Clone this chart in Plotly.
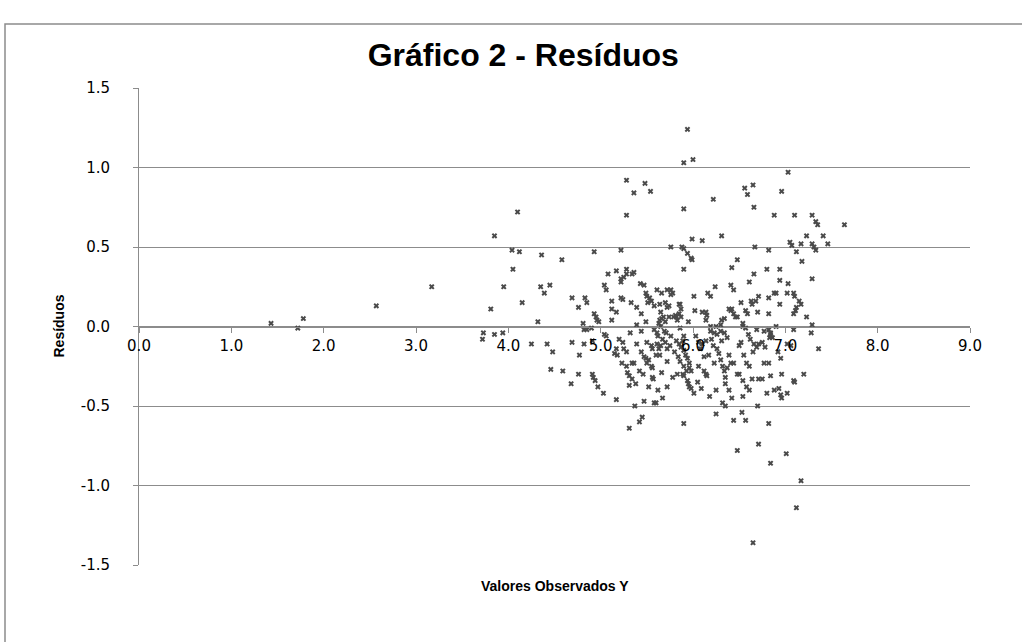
import plotly.graph_objects as go

x_obs = [
    1.43, 1.72, 1.78, 2.57, 3.17, 3.72, 3.73, 3.85, 3.94, 3.81, 3.85, 3.95, 4.04, 4.12, 4.05, 4.10,
    4.15, 4.36, 4.35, 4.45, 4.39, 4.32, 4.58, 4.69, 4.76, 4.83, 4.85, 4.93, 4.25, 4.42, 4.48, 4.46,
    4.59, 4.69, 4.77, 4.76, 4.68, 4.82, 4.91, 4.91, 4.92, 4.94, 4.97, 5.03, 5.17, 5.31,
    5.22, 4.93, 4.95, 4.96, 4.98, 4.81, 5.04, 5.06, 5.08, 5.17, 5.28, 5.28, 5.25, 5.22, 5.22, 5.34,
    5.12, 5.22, 5.24, 5.33, 5.12, 5.17, 5.12, 5.32, 4.82, 4.85, 4.90, 5.04, 5.06,
    5.76, 5.88, 5.90, 5.94, 5.98, 5.99, 6.67, 6.82, 7.05, 7.07, 7.12, 6.48, 6.42, 5.90, 6.66, 6.80,
    6.94, 5.36, 5.43, 5.47, 6.61, 6.94, 7.03, 6.41, 6.44, 6.24, 6.16, 6.19, 6.01, 5.49, 5.50, 5.53,
    5.51, 5.55, 5.61, 5.66, 5.72, 5.76, 5.78, 5.76, 5.85, 5.39, 5.44, 5.39, 5.49, 5.58, 5.64, 5.70,
    5.72, 5.65, 5.68, 5.64, 5.63, 5.65, 5.69, 5.66, 5.70, 5.82, 5.83, 5.81, 5.87, 5.85, 5.95, 6.02,
    6.10, 6.14, 6.15, 6.14, 6.31, 6.34, 6.25, 6.19, 6.39, 6.41, 6.44, 6.46, 6.52, 6.63, 6.64, 6.68,
    6.71, 6.57, 6.59, 6.70, 6.82, 6.82, 6.88, 6.90, 6.94, 7.02, 7.09, 7.10, 7.12, 6.54, 6.69, 6.82,
    6.84, 6.86, 6.90, 7.09, 6.19, 6.23, 6.26, 6.30, 5.44, 5.61,
    6.31, 5.99, 6.10, 7.17, 7.18, 7.23, 7.29, 7.31, 7.33, 7.41, 7.46, 7.29, 7.23, 7.29, 7.28, 7.36,
    7.64,
    5.94, 5.90, 6.00, 7.03, 5.28, 5.48, 5.36, 5.54, 5.28, 5.90, 6.22, 6.56, 6.65, 6.59, 6.66, 6.96,
    6.88, 7.10, 7.29, 7.33, 7.35,
    5.23, 5.28, 5.29, 5.31, 5.34, 5.17, 5.15, 5.18, 5.25, 5.28, 5.34, 5.31,
    5.39, 5.36, 5.38, 5.50, 5.55, 5.56, 5.44, 5.47, 5.49, 5.50, 5.61, 5.65, 5.63, 5.60, 5.64, 5.72,
    5.72, 5.71, 5.66, 5.72, 5.78, 5.83, 5.76, 5.82, 5.85, 5.87, 5.90, 5.92, 5.94, 5.96, 5.96, 5.90,
    5.89, 5.94, 5.96, 5.98, 6.01, 6.09, 6.05, 5.89, 6.12, 6.17, 6.23, 6.10, 6.14, 6.26, 6.28, 6.30,
    6.32, 6.34, 6.35, 6.35, 6.31, 6.37, 6.34, 6.39, 6.41, 6.44, 6.37, 6.25, 6.39, 6.42, 6.48, 6.50,
    6.52, 6.55, 6.58, 6.61, 6.58, 6.61, 6.64, 6.54, 6.66, 6.69, 6.71, 6.75, 6.78, 6.77, 6.82, 6.75,
    6.71, 6.80, 6.88, 6.95, 6.93, 6.96, 7.02, 7.06, 7.02, 7.09, 6.83, 6.84,
    5.42, 5.45, 5.90, 6.25, 6.44, 6.53, 6.57, 6.82, 6.71, 6.48, 7.01, 6.84, 7.17, 7.12, 6.65, 5.37,
    5.47, 5.58, 5.60, 6.32, 6.35, 6.70, 6.96, 7.10, 7.20, 6.84, 5.95,
    5.52, 5.55, 5.56, 5.56, 5.57, 5.90, 5.98, 6.14, 6.15, 6.50, 6.54,
    5.74, 5.79, 5.87, 5.74, 5.86, 5.86, 6.30, 6.42, 6.48, 6.54, 7.15, 7.17, 7.11, 7.09, 6.57, 6.77,
    5.58, 5.62, 5.67, 5.70, 5.75, 5.80, 5.84, 5.86, 5.90, 5.93, 6.03, 6.06, 6.08, 6.20, 6.22, 6.06,
    6.12, 6.60, 6.62, 6.65, 6.92, 6.95, 5.20, 5.24, 5.42, 5.46, 5.52, 5.62, 5.67, 6.18,
]

residuals = [
    0.02, -0.01, 0.05, 0.13, 0.25, -0.08, -0.04, -0.05, -0.04, 0.11, 0.57, 0.25, 0.48, 0.47, 0.36, 0.72,
    0.15, 0.45, 0.25, 0.26, 0.21, 0.03, 0.42, 0.18, 0.12, 0.18, 0.15, 0.47, -0.11, -0.11, -0.16, -0.27,
    -0.28, -0.10, -0.18, -0.30, -0.36, -0.11, -0.09, -0.30, -0.32, -0.34, -0.38, -0.42, -0.46, -0.64,
    0.48, 0.08, 0.06, 0.04, 0.03, 0.02, 0.26, 0.23, 0.33, 0.35, 0.36, 0.33, 0.31, 0.30, 0.28, 0.33,
    0.16, 0.18, 0.17, 0.15, 0.11, 0.09, 0.04, -0.04, -0.02, -0.02, -0.01, -0.05, -0.06,
    0.50, 0.50, 0.49, 0.46, 0.43, 0.42, 0.50, 0.48, 0.53, 0.51, 0.47, 0.42, 0.37, 0.36, 0.33, 0.36,
    0.36, 0.34, 0.27, 0.26, 0.28, 0.29, 0.27, 0.26, 0.23, 0.25, 0.21, 0.19, 0.19, 0.21, 0.19, 0.18,
    0.15, 0.16, 0.23, 0.21, 0.23, 0.23, 0.21, 0.20, 0.14, 0.12, 0.08, 0.01, 0.03, 0.13, 0.14, 0.15,
    0.12, 0.09, 0.06, 0.04, 0.02, 0.00, -0.03, 0.05, 0.03, 0.06, 0.04, 0.07, 0.11, 0.08, 0.03, 0.10,
    0.09, 0.09, 0.07, 0.04, 0.04, 0.05, 0.00, 0.00, 0.11, 0.10, 0.08, 0.06, 0.15, 0.16, 0.14, 0.16,
    0.19, 0.10, 0.08, 0.09, 0.08, 0.18, 0.21, 0.21, 0.14, 0.21, 0.21, 0.19, 0.12, 0.00, -0.02, -0.02,
    -0.04, -0.07, 0.00, -0.02, -0.03, -0.04, -0.05, -0.03, -0.03, -0.04,
    0.57, 0.55, 0.54, 0.52, 0.41, 0.57, 0.52, 0.50, 0.48, 0.57, 0.52, 0.30, 0.06, 0.01, -0.04, -0.14,
    0.64,
    1.24, 1.03, 1.05, 0.97, 0.92, 0.90, 0.84, 0.85, 0.70, 0.74, 0.80, 0.87, 0.89, 0.83, 0.75, 0.85,
    0.70, 0.70, 0.70, 0.66, 0.64,
    -0.23, -0.25, -0.29, -0.31, -0.33, -0.14, -0.17, -0.18, -0.14, -0.16, -0.23, -0.37,
    -0.11, -0.23, -0.36, -0.10, -0.12, -0.14, -0.16, -0.19, -0.20, -0.23, -0.11, -0.12, -0.14, -0.18, -0.18, -0.22,
    -0.14, -0.04, -0.29, -0.38, -0.32, -0.30, -0.06, -0.09, -0.11, -0.13, -0.15, -0.18, -0.20, -0.23, -0.26, -0.06,
    -0.09, -0.34, -0.38, -0.39, -0.42, -0.39, -0.35, -0.30, -0.19, -0.18, -0.23, -0.11, -0.09, -0.14, -0.17, -0.21,
    -0.25, -0.28, -0.32, -0.36, -0.09, -0.07, -0.04, -0.18, -0.23, -0.23, -0.26, -0.40, -0.40, -0.45, -0.30, -0.12,
    -0.10, -0.18, -0.23, -0.25, -0.38, -0.40, -0.33, -0.44, -0.11, -0.13, -0.11, -0.10, -0.13, -0.23, -0.23, -0.33,
    -0.33, -0.42, -0.40, -0.43, -0.39, -0.30, -0.42, -0.12, -0.11, -0.34, -0.07, -0.05,
    -0.60, -0.57, -0.61, -0.55, -0.59, -0.54, -0.59, -0.61, -0.74, -0.78, -0.80, -0.86, -0.97, -1.14, -1.36, -0.50,
    -0.47, -0.48, -0.48, -0.48, -0.50, -0.50, -0.45, -0.35, -0.30, -0.31, -0.36,
    -0.21, -0.25, -0.26, -0.32, -0.33, -0.31, -0.28, -0.30, -0.31, -0.30, -0.34,
    0.06, 0.06, 0.06, 0.13, 0.14, -0.01, 0.01, 0.11, 0.06, 0.02, 0.16, 0.14, 0.10, 0.08, -0.01, -0.03,
    -0.02, -0.06, -0.08, -0.10, -0.12, -0.16, -0.19, -0.22, -0.25, -0.28, -0.06, -0.10, -0.14, -0.08, -0.12, -0.25,
    -0.28, -0.05, -0.08, -0.16, -0.16, -0.20, -0.08, -0.10, -0.28, -0.30, -0.38, -0.40, -0.45, -0.44,
]

x_tick_vals = [0, 1, 2, 3, 4, 5, 6, 7, 8, 9]
x_tick_text = ["0.0", "1.0", "2.0", "3.0", "4.0", "5.0", "6.0", "7.0", "8.0", "9.0"]
y_tick_vals = [-1.5, -1.0, -0.5, 0.0, 0.5, 1.0, 1.5]
y_tick_text = ["-1.5", "-1.0", "-0.5", "0.0", "0.5", "1.0", "1.5"]

title_text = "Gráfico 2 - Resíduos"
x_title = "Valores Observados Y"
y_title = "Resíduos"

n = min(len(x_obs), len(residuals))

fig = go.Figure()
fig.add_trace(go.Scatter(
    x=x_obs[:n], y=residuals[:n], mode="markers",
    marker=dict(symbol="x", size=5, color="#4a4a4a", line=dict(width=0)),
    showlegend=False, hoverinfo="x+y",
))

grid_col = "#8c8c8c"
fig.update_layout(
    width=1022, height=642,
    paper_bgcolor="white", plot_bgcolor="white",
    margin=dict(l=139, r=52, t=88, b=77),
    title=dict(text=title_text, x=0.512, xanchor="center", y=0.914, yanchor="middle",
               xref="container", yref="container",
               font=dict(family="Liberation Sans, Arial", size=32, color="black", weight="bold")),
    xaxis=dict(range=[0, 9], tickvals=x_tick_vals, ticktext=x_tick_text,
               anchor="free", position=0.5, showline=True, linecolor=grid_col, linewidth=1,
               ticks="outside", ticklen=5, tickcolor=grid_col, showgrid=False, zeroline=False,
               tickfont=dict(family="DejaVu Sans, sans-serif", size=15, color="black")),
    yaxis=dict(range=[-1.5, 1.5], tickvals=y_tick_vals, ticktext=y_tick_text,
               showline=True, linecolor=grid_col, linewidth=1, ticks="outside", ticklen=5,
               tickcolor=grid_col, showgrid=True, gridcolor=grid_col, gridwidth=1, zeroline=False,
               ticklabelstandoff=20,
               tickfont=dict(family="DejaVu Sans, sans-serif", size=15, color="black")),
    annotations=[
        dict(text=x_title, xref="paper", yref="paper", x=0.5, y=(565 - 586) / 477,
             showarrow=False, xanchor="center", yanchor="middle",
             font=dict(family="Liberation Sans, Arial", size=14, color="black", weight="bold")),
        dict(text=y_title, xref="paper", yref="paper", x=(58 - 139) / 831, y=0.5,
             showarrow=False, textangle=-90, xanchor="center", yanchor="middle",
             font=dict(family="Liberation Sans, Arial", size=14, color="black", weight="bold")),
    ],
    shapes=[
        dict(type="rect", xref="paper", yref="paper",
             x0=(5 - 139) / 831, x1=(1060 - 139) / 831,
             y0=(565 - 700) / 477, y1=(565 - 24) / 477,
             line=dict(color="#8c8c8c", width=1.5), fillcolor="rgba(0,0,0,0)", layer="below"),
    ],
)

fig.write_html("out.html", config={"displayModeBar": False},
               post_script="document.body.style.margin='0px';")
